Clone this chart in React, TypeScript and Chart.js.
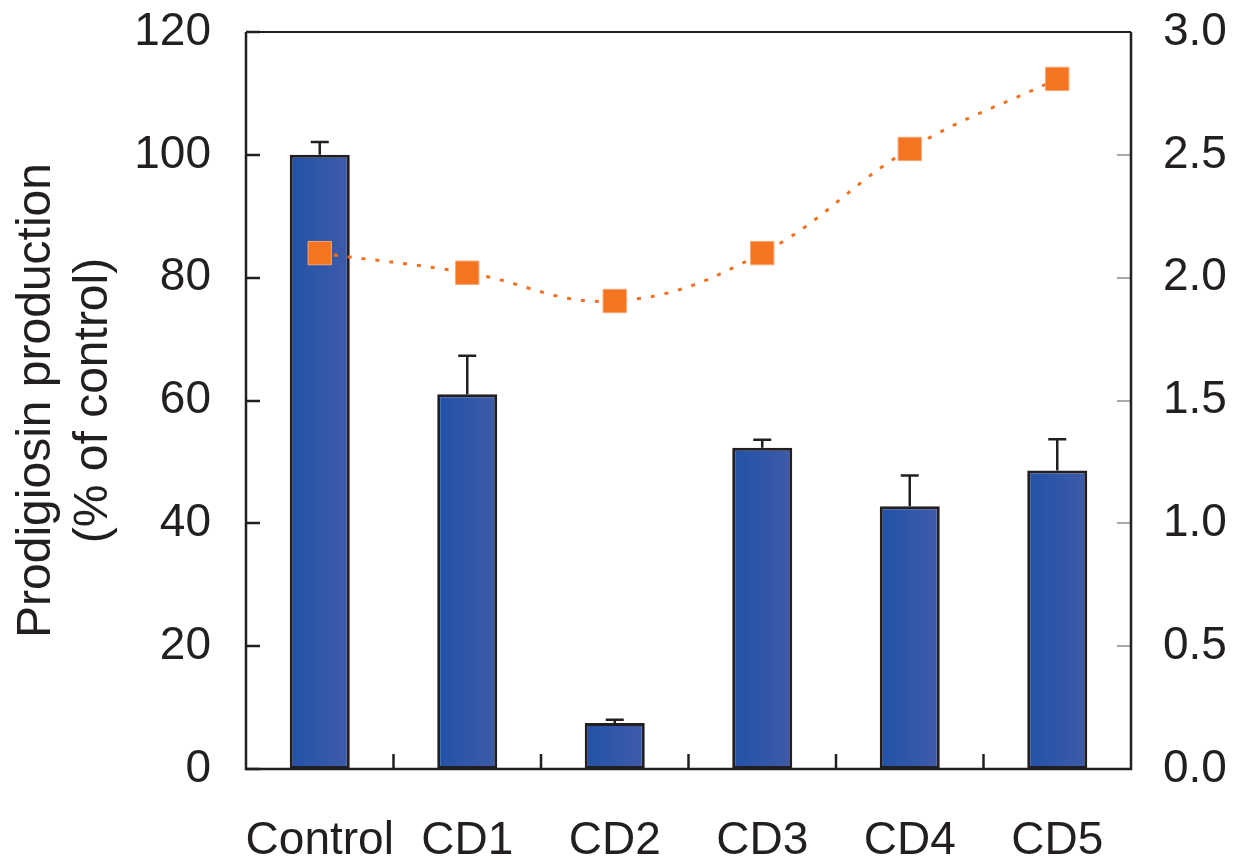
import React, { useEffect, useRef } from "react";
import { Chart, registerables } from "chart.js";

Chart.register(...registerables);

const categories = ["Control", "CD1", "CD2", "CD3", "CD4", "CD5"];
const prodigiosin = [100, 61.0, 7.5, 52.3, 42.8, 48.6];
const prodigiosinErr = [2.1, 6.3, 0.5, 1.3, 5.0, 5.1];
const secondSeries = [2.1, 2.02, 1.905, 2.1, 2.524, 2.809];
const leftTicks = [0, 20, 40, 60, 80, 100, 120];
const rightTicks = [0, 0.5, 1.0, 1.5, 2.0, 2.5, 3.0];

const FONT = '"Liberation Sans", Arial, Helvetica, sans-serif';
const INK = "#231F20";
const BAR_FRACTION = 0.407;

const framePlugin = {
  id: "frame",
  afterDraw(chart: any) {
    const { ctx, chartArea } = chart;
    const { left, right, top, bottom } = chartArea;
    const y = chart.scales.y;
    const y1 = chart.scales.y1;
    const x = chart.scales.x;
    ctx.save();
    ctx.lineCap = "butt";
    ctx.strokeStyle = INK;
    ctx.lineWidth = 2.5;
    leftTicks.forEach((v) => {
      const py = Math.round(y.getPixelForValue(v));
      ctx.beginPath();
      ctx.moveTo(left, py);
      ctx.lineTo(left + 14, py);
      ctx.stroke();
    });
    ctx.strokeStyle = "#8c8c8c";
    ctx.lineWidth = 1.5;
    rightTicks.forEach((v) => {
      const py = Math.round(y1.getPixelForValue(v));
      ctx.beginPath();
      ctx.moveTo(right, py);
      ctx.lineTo(right - 14, py);
      ctx.stroke();
    });
    ctx.strokeStyle = INK;
    ctx.lineWidth = 2.5;
    const n = categories.length;
    for (let i = 1; i < n; i++) {
      const px = (x.getPixelForValue(i - 1) + x.getPixelForValue(i)) / 2;
      ctx.beginPath();
      ctx.moveTo(px, bottom);
      ctx.lineTo(px, bottom - 15);
      ctx.stroke();
    }
    ctx.lineWidth = 1.8;
    ctx.beginPath();
    ctx.moveTo(left, top);
    ctx.lineTo(right, top);
    ctx.stroke();
    ctx.lineWidth = 2.5;
    ctx.beginPath();
    ctx.moveTo(left, top);
    ctx.lineTo(left, bottom);
    ctx.lineTo(right, bottom);
    ctx.lineTo(right, top);
    ctx.stroke();
    ctx.restore();
  },
};

const errorBarPlugin = {
  id: "errorBars",
  afterDatasetDraw(chart: any, args: any) {
    if (args.index !== 0) return;
    const { ctx } = chart;
    const x = chart.scales.x;
    const y = chart.scales.y;
    ctx.save();
    ctx.strokeStyle = INK;
    ctx.lineWidth = 2.5;
    prodigiosin.forEach((v, i) => {
      const px = x.getPixelForValue(i);
      const pBar = y.getPixelForValue(v);
      const pTop = y.getPixelForValue(v + prodigiosinErr[i]);
      ctx.beginPath();
      ctx.moveTo(px, pBar);
      ctx.lineTo(px, pTop);
      ctx.moveTo(px - 9, pTop);
      ctx.lineTo(px + 9, pTop);
      ctx.stroke();
    });
    ctx.restore();
  },
};

const noPad = (s: any) => {
  s.paddingTop = 0;
  s.paddingBottom = 0;
};

export default function App() {
  const canvasRef = useRef<HTMLCanvasElement | null>(null);

  useEffect(() => {
    document.body.style.margin = "0";
    const canvas = canvasRef.current;
    if (!canvas) return;

    const barFill = (context: any) => {
      const chart = context.chart;
      const area = chart.chartArea;
      if (!area) return "#2C56A8";
      const x = chart.scales.x;
      const px = x.getPixelForValue(context.dataIndex);
      const hw = ((area.right - area.left) / categories.length) * BAR_FRACTION / 2;
      const g = chart.ctx.createLinearGradient(px - hw, 0, px + hw, 0);
      g.addColorStop(0, "#2152A7");
      g.addColorStop(1, "#3F5BA9");
      return g;
    };

    const chart = new Chart(canvas, {
      type: "bar",
      data: {
        labels: categories,
        datasets: [
          {
            type: "bar",
            data: prodigiosin,
            backgroundColor: barFill,
            borderColor: INK,
            borderWidth: 3,
            borderSkipped: false,
            categoryPercentage: 1,
            barPercentage: BAR_FRACTION,
            yAxisID: "y",
            order: 2,
          },
          {
            type: "line",
            data: secondSeries,
            borderColor: "#F37021",
            borderWidth: 3,
            borderDash: [4, 10],
            tension: 0.4,
            fill: false,
            pointStyle: "rect",
            pointRadius: 16.5,
            pointHoverRadius: 16.5,
            pointBackgroundColor: "#F47421",
            pointBorderColor: "#F8A670",
            pointBorderWidth: 1,
            yAxisID: "y1",
            order: 1,
          } as any,
        ],
      },
      options: {
        animation: false,
        responsive: true,
        maintainAspectRatio: false,
        layout: { padding: { top: 32, left: 0, right: 0, bottom: 0 } },
        plugins: {
          legend: { display: false },
          tooltip: { enabled: false },
        },
        scales: {
          x: {
            type: "category",
            offset: true,
            grid: { display: false, drawTicks: false },
            border: { display: false },
            ticks: {
              color: INK,
              font: { family: FONT, size: 46 },
              padding: 45,
              maxRotation: 0,
              autoSkip: false,
            },
            afterFit: (s: any) => {
              s.height = 93;
            },
          },
          y: {
            type: "linear",
            position: "left",
            min: 0,
            max: 120,
            grid: { display: false, drawTicks: false },
            border: { display: false },
            ticks: {
              stepSize: 20,
              color: INK,
              font: { family: FONT, size: 46 },
              padding: 35,
            },
            title: {
              display: true,
              text: ["Prodigiosin production", "(% of control)"],
              color: INK,
              font: { family: FONT, size: 48, lineHeight: 1.19 },
              padding: { top: 8, bottom: 0 },
            },
            afterFit: (s: any) => {
              s.width = 246;
              noPad(s);
            },
          },
          y1: {
            type: "linear",
            position: "right",
            min: 0,
            max: 3,
            grid: { display: false, drawTicks: false },
            border: { display: false },
            ticks: {
              stepSize: 0.5,
              color: INK,
              font: { family: FONT, size: 46 },
              padding: 32,
              callback: (v: any) => Number(v).toFixed(1),
            },
            afterFit: (s: any) => {
              s.width = 102;
              noPad(s);
            },
          },
        },
      },
      plugins: [errorBarPlugin, framePlugin],
    });

    return () => chart.destroy();
  }, []);

  return (
    <div style={{ position: "absolute", left: 0, top: 0, width: 1233, height: 862 }}>
      <canvas ref={canvasRef} />
    </div>
  );
}
